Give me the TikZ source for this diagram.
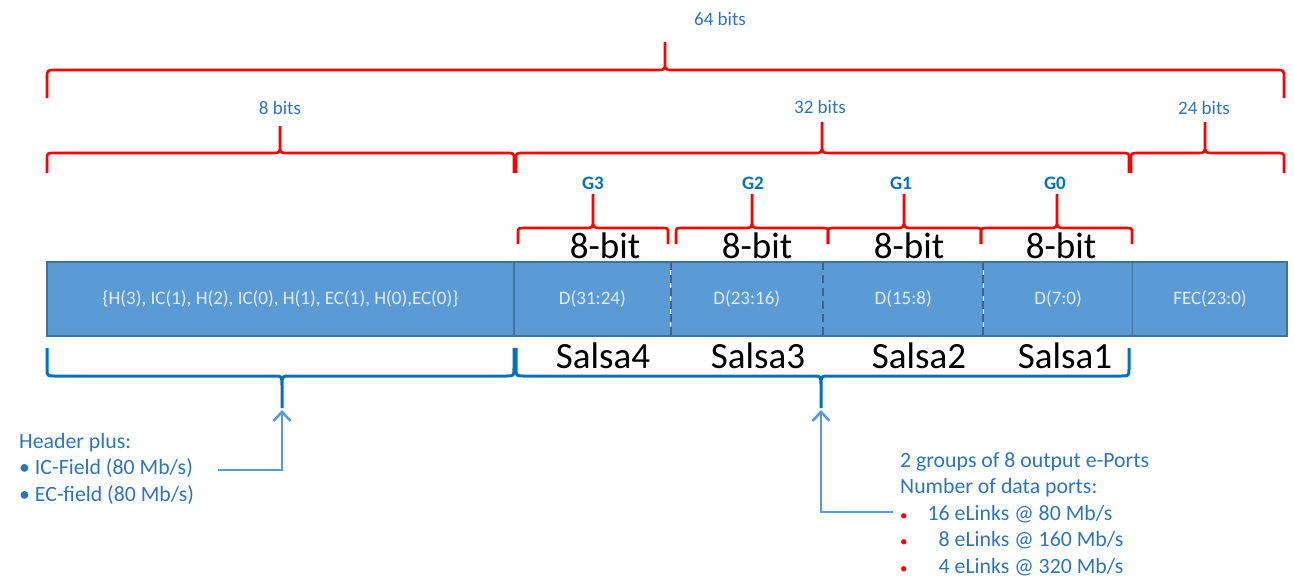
\documentclass[tikz,border=0pt]{standalone}
\usepackage{fontspec}
\setmainfont{Carlito}
\usepackage{xcolor}
\usepackage{tikz}
\usetikzlibrary{
arrows.meta,
positioning
}
\definecolor{gbtred}{RGB}{255,0,0}
\definecolor{gbtblue}{RGB}{0,112,192}
\definecolor{gbtcell}{RGB}{91,155,213}
\definecolor{gbtedge}{RGB}{65,113,156}
\definecolor{gbttext}{RGB}{46,117,182}
\definecolor{gbtlight}{RGB}{226,236,247}

% brace: style, x-left, x-right, x-tip, y-bar, end depth, tip height
\newcommand{\fieldbrace}[7]{%
  \draw[#1] (#2,{#5+(#6)}) -- (#2,{#5+0.3*(#6)}) .. controls (#2,#5) .. ({#2+8},#5)
    -- ({#4-8},#5) .. controls (#4,#5) .. (#4,{#5-0.3*(#7)}) -- (#4,{#5-(#7)})
    (#4,{#5-0.3*(#7)}) .. controls (#4,#5) .. ({#4+8},#5)
    -- ({#3-8},#5) .. controls (#3,#5) .. (#3,{#5+0.3*(#6)}) -- (#3,{#5+(#6)});}

\begin{document}
\begin{tikzpicture}[
  x=1pt, y=-1pt,
  redbrace/.style={gbtred, line width=2.6pt},
  bluebrace/.style={gbtblue, line width=3pt},
  cell/.style={fill=gbtcell, minimum height=74pt, inner sep=0pt, text=gbtlight,
    font=\fontsize{19}{21}\selectfont},
  cellrule/.style={gbtedge, line width=1.6pt},
  cutrule/.style={gbtedge!90!black, line width=2pt, dash pattern=on 8pt off 5pt},
  bitlabel/.style={text=gbttext, font=\fontsize{19}{22}\selectfont},
  grouplabel/.style={text=gbtblue, font=\fontsize{19}{22}\selectfont\bfseries},
  sizelabel/.style={font=\fontsize{37}{40}\selectfont},
  notes/.style={text=gbttext, align=left, inner sep=0pt,
    font=\fontsize{21.8}{26.5}\selectfont},
  feed/.style={gbtcell, line width=2.6pt, -{Straight Barb[length=9pt,width=17pt]}}
]
\useasboundingbox (0,0) rectangle (1294,584);

% Frame fields
\node[cell, minimum width=467pt] (fhdr) at (280.5,299)
  {\{H(3), IC(1), H(2), IC(0), H(1), EC(1), H(0),EC(0)\}};
\node[cell, minimum width=156pt, right=0pt of fhdr] (fd3) {D(31:24)};
\node[cell, minimum width=152pt, right=0pt of fd3] (fd2) {D(23:16)};
\node[cell, minimum width=160pt, right=0pt of fd2] (fd1) {D(15:8)};
\node[cell, minimum width=149pt, right=0pt of fd1] (fd0) {D(7:0)};
\node[cell, minimum width=154pt, right=0pt of fd0] (fec) {FEC(23:0)};
\draw[cellrule] (fhdr.north east) -- (fhdr.south east);
\draw[cutrule] (fd3.north east) -- (fd3.south east);
\draw[cutrule] (fd2.north east) -- (fd2.south east);
\draw[cutrule] (fd1.north east) -- (fd1.south east);
\draw[cellrule, line width=1.2pt] (fd0.north east) -- (fd0.south east);
\draw[cellrule] (fhdr.north west) rectangle (fec.south east);

% Width braces
\fieldbrace{redbrace}{47}{1284}{665}{70}{28}{28}
\node[bitlabel] (w64) at (720,19) {64 bits};
\fieldbrace{redbrace}{47}{514}{280}{153}{20}{27}
\node[bitlabel] (w8) at (280,108) {8 bits};
\fieldbrace{redbrace}{516}{1129}{822}{153}{20}{31}
\node[bitlabel] (w32) at (820,107) {32 bits};
\fieldbrace{redbrace}{1131}{1284}{1205}{153}{20}{31}
\node[bitlabel] (w24) at (1204,108) {24 bits};

% Groups
\fieldbrace{redbrace}{518}{668}{593}{228}{16}{34}
\fieldbrace{redbrace}{676}{828}{752}{228}{16}{34}
\fieldbrace{redbrace}{828}{981}{904}{228}{16}{34}
\fieldbrace{redbrace}{981}{1132}{1057}{228}{16}{34}
\node[grouplabel] (g3) at (593,183) {G3};
\node[grouplabel] (g2) at (753,183) {G2};
\node[grouplabel] (g1) at (901,183) {G1};
\node[grouplabel] (g0) at (1055,183) {G0};
\node[sizelabel] (b3) at (605,246) {8-bit};
\node[sizelabel] (b2) at (757,246) {8-bit};
\node[sizelabel] (b1) at (909,246) {8-bit};
\node[sizelabel] (b0) at (1061,246) {8-bit};

% Salsa chips
\node[sizelabel] (s4) at (603,356) {Salsa4};
\node[sizelabel] (s3) at (758,356) {Salsa3};
\node[sizelabel] (s2) at (919,356) {Salsa2};
\node[sizelabel] (s1) at (1065,356) {Salsa1};
\fieldbrace{bluebrace}{47}{514}{282}{376}{-28}{-32}
\fieldbrace{bluebrace}{516}{1129}{821}{376}{-28}{-32}

% Notes
\node[notes, anchor=north west] (hdrnote) at (19,433)
  {Header plus:\\ \textbullet\ IC-Field (80 Mb/s)\\ \textbullet\ EC-field (80 Mb/s)};
\node[notes, anchor=north west] (datnote) at (900,452)
  {2 groups of 8 output e-Ports\\ Number of data ports:\\
   \textcolor{red}{\fontsize{15}{26.5}\selectfont\textbullet}\hspace{20pt}16 eLinks @ 80 Mb/s\\
   \textcolor{red}{\fontsize{15}{26.5}\selectfont\textbullet}\hspace{20pt}\phantom{1}8 eLinks @ 160 Mb/s\\
   \textcolor{red}{\fontsize{15}{26.5}\selectfont\textbullet}\hspace{20pt}\phantom{1}4 eLinks @ 320 Mb/s};

\coordinate (hdrfeed) at (218,470);
\coordinate (hdrtip) at (282,410);
\coordinate (datfeed) at (893,512);
\coordinate (dattip) at (821,410);
\draw[feed] (hdrfeed) -| (hdrtip);
\draw[feed] (datfeed) -| (dattip);

\end{tikzpicture}
\end{document}
